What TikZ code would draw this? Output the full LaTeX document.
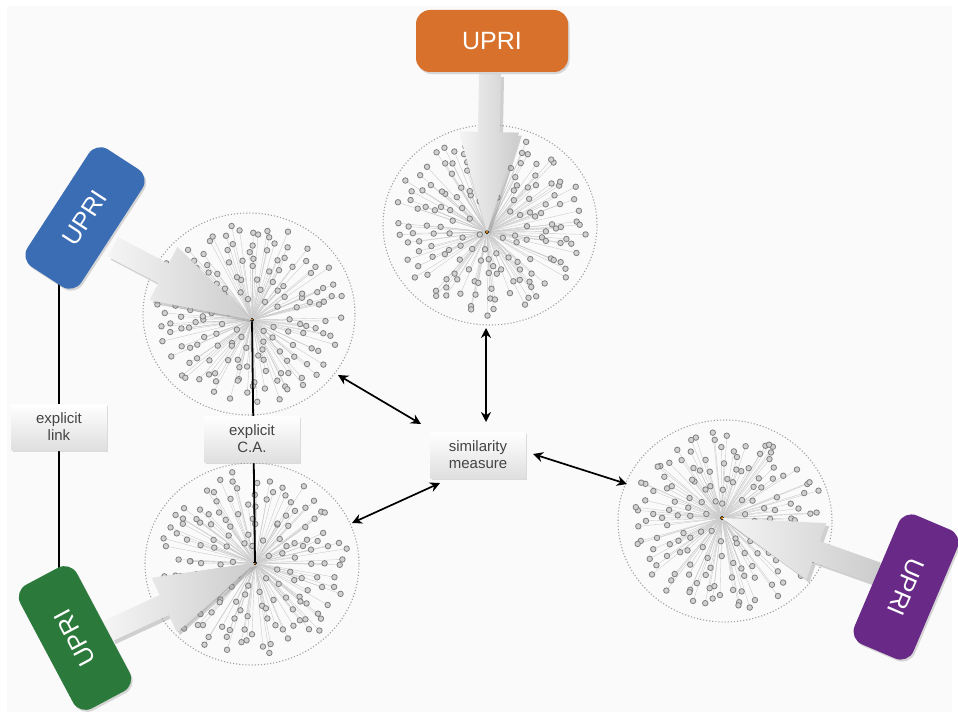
\documentclass[tikz,border=0pt]{standalone}
\usepackage{fontspec}
\setmainfont{Liberation Sans}
\usetikzlibrary{calc,shadows,arrows.meta,shapes.geometric}
\pgfdeclarelayer{bglayer}
\pgfsetlayers{bglayer,main}

\definecolor{upriorange}{HTML}{D8712B}
\definecolor{upriblue}{HTML}{3B6DB4}
\definecolor{uprigreen}{HTML}{2B7A3B}
\definecolor{upripurple}{HTML}{682A86}
\definecolor{bgcol}{HTML}{FAFAFA}
\definecolor{labeltext}{HTML}{444444}

% #1 name, #2 cx, #3 cy, #4 rx, #5 ry, #6 hub x, #7 hub y, #8 seed, #9 count
\newcommand\drawstar[9]{%
  \node[ring, minimum width=2*#4, minimum height=2*#5] (#1) at (#2,#3) {};
  \coordinate (#1hub) at (#6,#7);
  \pgfmathsetseed{#8}%
  \foreach \i in {1,...,#9}{%
    \pgfmathsetmacro\ang{360*(\i*0.381966-floor(\i*0.381966))+14*(rnd-0.5)}%
    \pgfmathsetmacro\rad{0.90*sqrt(0.03+0.97*(\i-0.5)/#9)}%
    \pgfmathsetmacro\px{#2+\rad*(#4)*cos(\ang)+7*(rnd-0.5)}%
    \pgfmathsetmacro\py{#3+\rad*(#5)*sin(\ang)+7*(rnd-0.5)}%
    \coordinate (#1-p\i) at (\px,\py);
    \draw[spoke] (#1hub) -- (#1-p\i);
  }
  \foreach \i in {1,...,#9}{%
    \node[leaf] (#1-\i) at (#1-p\i) {};
  }
  \node[hubdot] (#1dot) at (#1hub) {};
}

% #1 start coordinate name, #2 tip coordinate name
\newcommand\fatarrow[2]{%
  \coordinate (#1h) at ($(#2)!100pt!(#1)$);
  \path[fatarr] ($(#1)!11pt!90:(#2)$) -- ($(#1h)!11pt!90:(#2)$)
    -- ($(#1h)!30pt!90:(#2)$) -- (#2) -- ($(#1h)!30pt!-90:(#2)$)
    -- ($(#1h)!11pt!-90:(#2)$) -- ($(#1)!11pt!-90:(#2)$) -- cycle;
}

\begin{document}
\begin{tikzpicture}[x=1pt,y=-1pt,
  ring/.style={ellipse, draw=gray!75, dotted, line width=1.1pt, inner sep=0pt},
  leaf/.style={circle, draw=black!50, fill=black!18, line width=0.8pt, minimum size=5.5pt, inner sep=0pt},
  spoke/.style={draw=gray!40, line width=0.4pt},
  hubdot/.style={circle, fill=orange!80!yellow, draw=black, line width=0.4pt, minimum size=3.5pt, inner sep=0pt},
  fatarr/.style={left color=gray!8, right color=gray!40,
    drop shadow={shadow xshift=3pt, shadow yshift=-3pt, opacity=0.35}},
  upri/.style={rounded corners=14pt, minimum width=140pt, minimum height=64pt, inner sep=0pt,
    text=white, font=\fontsize{25}{30}\selectfont,
    drop shadow={opacity=0.3, shadow xshift=1.5pt, shadow yshift=-2pt}},
  lbl/.style={top color=white, bottom color=gray!25, minimum width=95pt, minimum height=46pt,
    align=center, text=labeltext, font=\fontsize{15}{17}\selectfont, inner sep=2pt,
    drop shadow={opacity=0.25, shadow xshift=1pt, shadow yshift=-1.5pt}},
  dbl/.style={line width=1.7pt, {Stealth[length=10pt,width=10pt]}-{Stealth[length=10pt,width=10pt]}},
  conn/.style={line width=1.8pt, draw=black}
]
\useasboundingbox (0,0) rectangle (958,717);
\begin{pgfonlayer}{bglayer}
  \fill[white] (0,0) rectangle (958,717);
  \fill[bgcol] (7,6) rectangle (952,712);
\end{pgfonlayer}

% star graphs
\drawstar{top}{490}{225}{107}{100}{487}{232}{11}{165}
\drawstar{ul}{249}{314}{106}{101}{252}{320}{23}{160}
\drawstar{ll}{252}{564}{107}{101}{255}{563}{37}{160}
\drawstar{rt}{725}{521}{107}{101}{722}{518}{51}{160}

% explicit C.A. line
\draw[conn] (ulhub) -- (llhub);

% explicit link line
\coordinate (lt) at (59,280);
\coordinate (lb) at (59,570);
\draw[conn] (lt) -- (lb);

% big arrows
\coordinate (oa) at (490,74);
\coordinate (ba) at (113,247);
\coordinate (ga) at (108,631);
\coordinate (pa) at (877,573);
\fatarrow{oa}{tophub}
\fatarrow{ba}{ulhub}
\fatarrow{ga}{llhub}
\fatarrow{pa}{rthub}

% UPRI boxes
\node[upri, fill=upriorange, minimum width=152pt, minimum height=62pt] (uo) at (492,41) {UPRI};
\node[upri, fill=upriblue, rotate=57] (ub) at (85,218) {UPRI};
\node[upri, fill=uprigreen, rotate=118] (ug) at (75,638) {UPRI};
\node[upri, fill=upripurple, rotate=-113] (up) at (906,587) {UPRI};

% labels
\node[lbl] (link) at (59,427) {explicit\\link};
\node[lbl] (ca) at (252,439) {explicit\\C.A.};
\node[lbl] (sim) at (478,455) {similarity\\measure};

% similarity arrows
\coordinate (s1a) at (486,328); \coordinate (s1b) at (486,422);
\coordinate (s2a) at (338,375); \coordinate (s2b) at (421,424);
\coordinate (s3a) at (352,523); \coordinate (s3b) at (440,483);
\coordinate (s4a) at (533,454); \coordinate (s4b) at (627,484);
\draw[dbl] (s1a) -- (s1b);
\draw[dbl] (s2a) -- (s2b);
\draw[dbl] (s3a) -- (s3b);
\draw[dbl] (s4a) -- (s4b);
\end{tikzpicture}
\end{document}
